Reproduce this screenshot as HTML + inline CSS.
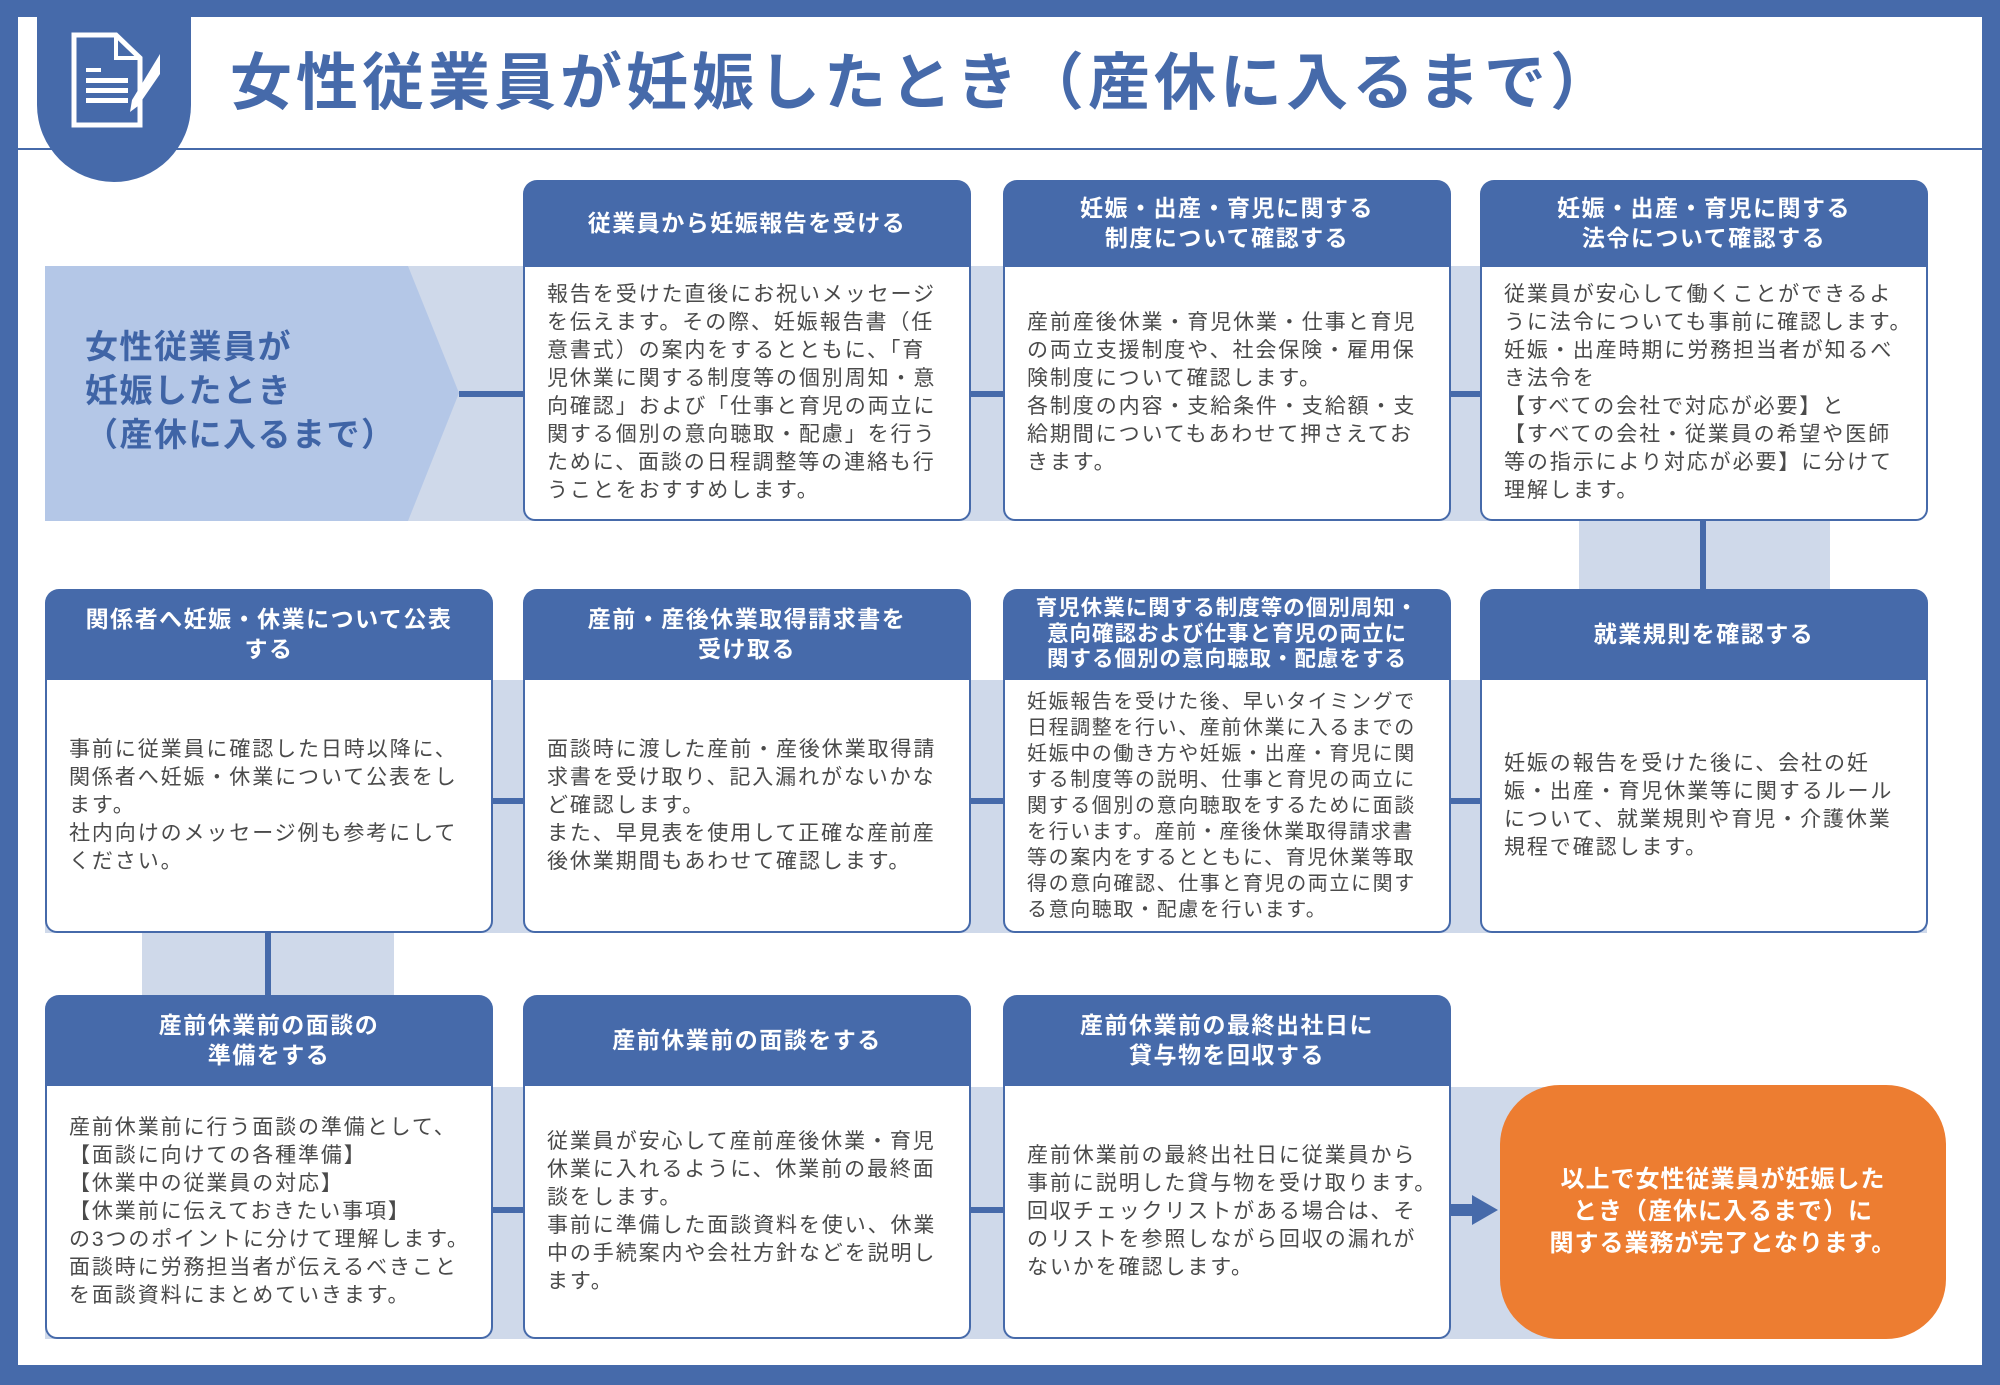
<!DOCTYPE html>
<html><head><meta charset="utf-8"><style>
*{margin:0;padding:0;box-sizing:border-box}
body{width:2000px;height:1385px;background:#466aaa;position:relative;overflow:hidden;font-family:"Liberation Sans","Noto Sans CJK JP",sans-serif}
.abs{position:absolute}
.inner{left:18px;top:17px;width:1964px;height:1348px;background:#fff}
.band{background:#cfd9ea}
.line{background:#466aaa}
.box{position:absolute;width:448px}
.hd{background:#466aaa;color:#fff;font-weight:bold;font-size:23px;letter-spacing:1.5px;text-align:center;border-radius:14px 14px 0 0;display:flex;align-items:center;justify-content:center;line-height:1.3}
.bd{background:#fff;border:2.5px solid #466aaa;border-top:none;border-radius:0 0 12px 12px;color:#4a4a4a;font-size:21px;letter-spacing:1.9px;line-height:28px;padding:0 10px 0 22px;display:flex;flex-direction:column;justify-content:center;white-space:nowrap}
</style></head><body>
<div class="abs inner"></div>
<!-- title -->
<div class="abs" style="left:18px;top:148px;width:1964px;height:2px;background:#466aaa"></div>
<div class="abs" style="left:37px;top:0;width:154px;height:182px;background:#466aaa;border-radius:0 0 77px 77px"></div>
<svg class="abs" style="left:60px;top:30px" width="110" height="100" viewBox="0 0 110 100">
<path d="M14 5 H56 L80 28 V95 H14 Z" fill="none" stroke="#fff" stroke-width="5"/>
<path d="M56 5 V28 H80" fill="none" stroke="#fff" stroke-width="4"/>
<rect x="26" y="38" width="15" height="4" fill="#fff"/>
<rect x="26" y="48" width="42" height="5" fill="#fff"/>
<rect x="26" y="58" width="42" height="5" fill="#fff"/>
<rect x="26" y="68" width="42" height="5" fill="#fff"/>
<path d="M100 24 L100 44 L78 76 L70 82 L72 70 Z" fill="#fff"/>
</svg>
<div class="abs" style="left:230px;top:44px;font-size:62px;font-weight:bold;color:#466aaa;letter-spacing:4px;white-space:nowrap;line-height:80px">女性従業員が妊娠したとき（産休に入るまで）</div>

<!-- bands -->
<div class="abs band" style="left:45px;top:266px;width:1490px;height:255px"></div>
<div class="abs band" style="left:45px;top:680px;width:1882px;height:253px"></div>
<div class="abs band" style="left:45px;top:1087px;width:1520px;height:252px"></div>
<div class="abs band" style="left:1579px;top:521px;width:251px;height:68px"></div>
<div class="abs band" style="left:142px;top:933px;width:252px;height:63px"></div>
<!-- left arrow -->
<svg class="abs" style="left:45px;top:266px" width="420" height="255"><polygon points="0,0 363,0 414,127 363,255 0,255" fill="#b4c7e7"/></svg>
<div class="abs" style="left:85px;top:325px;font-size:33px;font-weight:bold;color:#3f64a6;line-height:44px;letter-spacing:1.5px;white-space:nowrap">女性従業員が<br>妊娠したとき<br>（産休に入るまで）</div>
<!-- connectors -->
<div class="abs line" style="left:459px;top:391px;width:1030px;height:6px"></div>
<div class="abs line" style="left:1700px;top:521px;width:6px;height:68px"></div>
<div class="abs line" style="left:45px;top:798px;width:1440px;height:6px"></div>
<div class="abs line" style="left:265px;top:933px;width:6px;height:63px"></div>
<div class="abs line" style="left:45px;top:1207px;width:1420px;height:6px"></div>
<svg class="abs" style="left:1450px;top:1195px" width="50" height="30"><polygon points="0,9 22,9 22,0 48,15 22,30 22,21 0,21" fill="#466aaa"/></svg>

<!-- row1 -->
<div class="box" style="left:523px;top:180px"><div class="hd" style="height:87px">従業員から妊娠報告を受ける</div><div class="bd" style="height:254px">報告を受けた直後にお祝いメッセージ<br>を伝えます。その際、妊娠報告書（任<br>意書式）の案内をするとともに、「育<br>児休業に関する制度等の個別周知・意<br>向確認」および「仕事と育児の両立に<br>関する個別の意向聴取・配慮」を行う<br>ために、面談の日程調整等の連絡も行<br>うことをおすすめします。</div></div>
<div class="box" style="left:1003px;top:180px"><div class="hd" style="height:87px">妊娠・出産・育児に関する<br>制度について確認する</div><div class="bd" style="height:254px">産前産後休業・育児休業・仕事と育児<br>の両立支援制度や、社会保険・雇用保<br>険制度について確認します。<br>各制度の内容・支給条件・支給額・支<br>給期間についてもあわせて押さえてお<br>きます。</div></div>
<div class="box" style="left:1480px;top:180px"><div class="hd" style="height:87px">妊娠・出産・育児に関する<br>法令について確認する</div><div class="bd" style="height:254px">従業員が安心して働くことができるよ<br>うに法令についても事前に確認します。<br>妊娠・出産時期に労務担当者が知るべ<br>き法令を<br>【すべての会社で対応が必要】と<br>【すべての会社・従業員の希望や医師<br>等の指示により対応が必要】に分けて<br>理解します。</div></div>
<!-- row2 -->
<div class="box" style="left:45px;top:589px"><div class="hd" style="height:91px">関係者へ妊娠・休業について公表<br>する</div><div class="bd" style="height:253px">事前に従業員に確認した日時以降に、<br>関係者へ妊娠・休業について公表をし<br>ます。<br>社内向けのメッセージ例も参考にして<br>ください。</div></div>
<div class="box" style="left:523px;top:589px"><div class="hd" style="height:91px">産前・産後休業取得請求書を<br>受け取る</div><div class="bd" style="height:253px">面談時に渡した産前・産後休業取得請<br>求書を受け取り、記入漏れがないかな<br>ど確認します。<br>また、早見表を使用して正確な産前産<br>後休業期間もあわせて確認します。</div></div>
<div class="box" style="left:1003px;top:589px"><div class="hd" style="height:91px;font-size:21.5px;line-height:1.2;letter-spacing:1px">育児休業に関する制度等の個別周知・<br>意向確認および仕事と育児の両立に<br>関する個別の意向聴取・配慮をする</div><div class="bd" style="height:253px;font-size:20px;line-height:26px;letter-spacing:1.6px">妊娠報告を受けた後、早いタイミングで<br>日程調整を行い、産前休業に入るまでの<br>妊娠中の働き方や妊娠・出産・育児に関<br>する制度等の説明、仕事と育児の両立に<br>関する個別の意向聴取をするために面談<br>を行います。産前・産後休業取得請求書<br>等の案内をするとともに、育児休業等取<br>得の意向確認、仕事と育児の両立に関す<br>る意向聴取・配慮を行います。</div></div>
<div class="box" style="left:1480px;top:589px"><div class="hd" style="height:91px">就業規則を確認する</div><div class="bd" style="height:253px">妊娠の報告を受けた後に、会社の妊<br>娠・出産・育児休業等に関するルール<br>について、就業規則や育児・介護休業<br>規程で確認します。</div></div>
<!-- row3 -->
<div class="box" style="left:45px;top:995px"><div class="hd" style="height:91px">産前休業前の面談の<br>準備をする</div><div class="bd" style="height:253px">産前休業前に行う面談の準備として、<br>【面談に向けての各種準備】<br>【休業中の従業員の対応】<br>【休業前に伝えておきたい事項】<br>の3つのポイントに分けて理解します。<br>面談時に労務担当者が伝えるべきこと<br>を面談資料にまとめていきます。</div></div>
<div class="box" style="left:523px;top:995px"><div class="hd" style="height:91px">産前休業前の面談をする</div><div class="bd" style="height:253px">従業員が安心して産前産後休業・育児<br>休業に入れるように、休業前の最終面<br>談をします。<br>事前に準備した面談資料を使い、休業<br>中の手続案内や会社方針などを説明し<br>ます。</div></div>
<div class="box" style="left:1003px;top:995px"><div class="hd" style="height:91px">産前休業前の最終出社日に<br>貸与物を回収する</div><div class="bd" style="height:253px">産前休業前の最終出社日に従業員から<br>事前に説明した貸与物を受け取ります。<br>回収チェックリストがある場合は、そ<br>のリストを参照しながら回収の漏れが<br>ないかを確認します。</div></div>
<div class="abs" style="left:1500px;top:1085px;width:446px;height:254px;background:#ed7d31;border-radius:60px;color:#fff;font-weight:bold;font-size:24px;line-height:32px;letter-spacing:1px;display:flex;align-items:center;justify-content:center;text-align:center">以上で女性従業員が妊娠した<br>とき（産休に入るまで）に<br>関する業務が完了となります。</div>
</body></html>
